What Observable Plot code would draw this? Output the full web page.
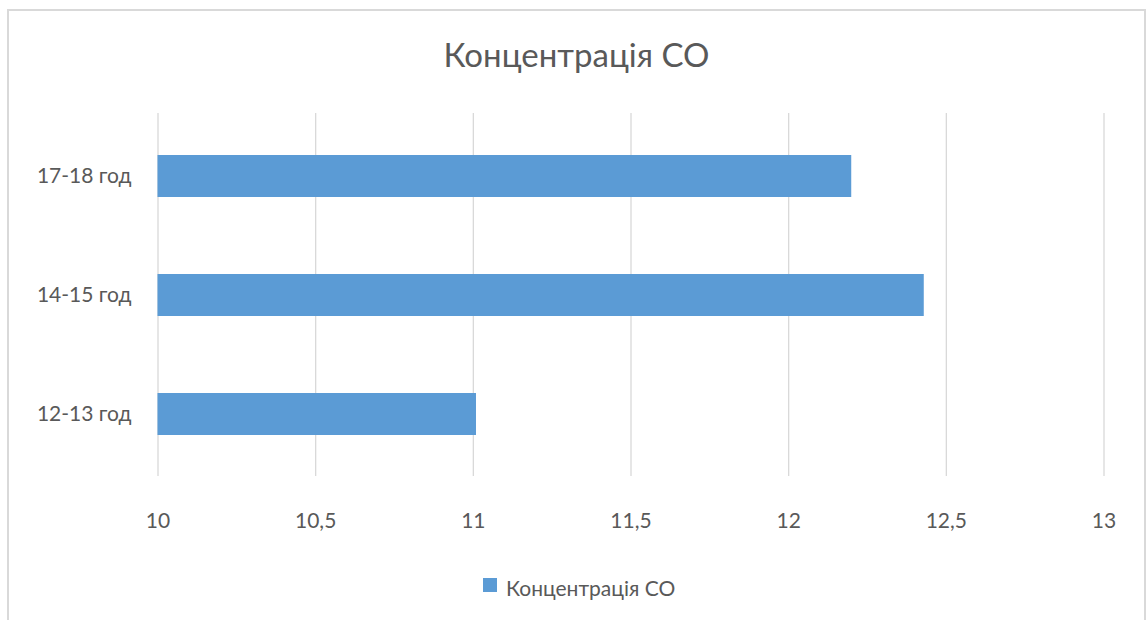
<!DOCTYPE html>
<html>
<head>
<meta charset="utf-8">
<script src="https://cdn.jsdelivr.net/npm/d3@7"></script>
<script src="https://cdn.jsdelivr.net/npm/@observablehq/plot@0.6"></script>
<style>
  html, body { margin: 0; padding: 0; background: #fff; }
  body { width: 1147px; height: 620px; position: relative; overflow: hidden; font-family: Lato, "Open Sans", sans-serif; color: #595959; }
  #frame { position: absolute; left: 7px; top: 9px; width: 1139px; height: 700px; border: 2px solid #d9d9d9; box-sizing: border-box; }
  #title { position: absolute; left: 0; top: 35px; width: 1153px; text-align: center; font-size: 33px; line-height: 1.2; }
  #chart { position: absolute; left: 0; top: 90px; }
  #legend { position: absolute; left: 483px; top: 575px; font-size: 21px; line-height: 1.2; display: flex; align-items: flex-start; }
  #legend .sw { width: 14px; height: 14px; margin-top: 3px; margin-right: 9px; }
</style>
</head>
<body>
<div id="frame"></div>
<div id="title"></div>
<div id="chart"></div>
<div id="legend"></div>
<script>
const seriesName = "Концентрація СО";
const categories = ["17-18 год", "14-15 год", "12-13 год"];
const values = [12.2, 12.43, 11.01];
const xTicks = [10, 10.5, 11, 11.5, 12, 12.5, 13];
const barColor = "#5b9bd5";

const data = categories.map((c, i) => ({category: c, value: values[i]}));
const xMin = xTicks[0];

document.getElementById("title").textContent = seriesName;

const chart = Plot.plot({
  width: 1147,
  height: 470,
  marginTop: 23,
  marginBottom: 84,
  marginLeft: 157.5,
  marginRight: 43.5,
  style: {fontFamily: "Lato, 'Open Sans', sans-serif", fontSize: "21px", color: "#595959", background: "transparent"},
  x: {domain: [xTicks[0], xTicks[xTicks.length - 1]], ticks: xTicks, tickFormat: d => String(d).replace(".", ","), tickSize: 0, tickPadding: 37, label: null},
  y: {domain: categories, paddingInner: 0.648, paddingOuter: 0.343, tickSize: 0, tickPadding: 26.5, label: null},
  marks: [
    Plot.ruleX(xTicks, {stroke: "#d9d9d9", strokeWidth: 1.3}),
    Plot.barX(data, {y: "category", x1: () => xMin, x2: "value", fill: barColor})
  ]
});
document.getElementById("chart").appendChild(chart);

const legend = document.getElementById("legend");
const sw = document.createElement("div");
sw.className = "sw";
sw.style.background = barColor;
const lt = document.createElement("span");
lt.textContent = seriesName;
legend.appendChild(sw);
legend.appendChild(lt);
</script>
</body>
</html>
